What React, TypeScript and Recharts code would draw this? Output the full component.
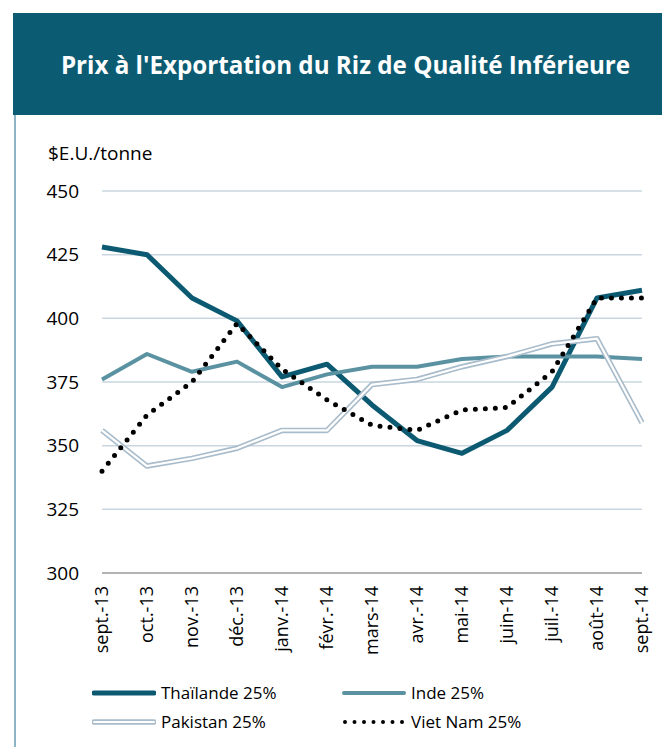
import React from "react";
import { LineChart, Line, XAxis, YAxis, CartesianGrid } from "recharts";

const months = ["sept.-13", "oct.-13", "nov.-13", "déc.-13", "janv.-14", "févr.-14", "mars-14", "avr.-14", "mai-14", "juin-14", "juil.-14", "août-14", "sept.-14"];
const thailande = [428, 425, 408, 399, 377, 382, 366, 352, 347, 356, 373, 408, 411];
const inde = [376, 386, 379, 383, 373, 378, 381, 381, 384, 385, 385, 385, 384];
const pakistan = [356, 342, 345, 349, 356, 356, 374, 376, 381, 385, 390, 392, 359];
const vietnam = [340, 362, 375, 398, 380, 368, 358, 356, 364, 365, 379, 408, 408];
const yTicks = [300, 325, 350, 375, 400, 425, 450];

const data = months.map((m, i) => ({
  month: m,
  thailande: thailande[i],
  inde: inde[i],
  pakistan: pakistan[i],
  vietnam: vietnam[i],
}));

const FONT = "'Open Sans', sans-serif";
const C_THAI = "#0b5a72";
const C_INDE = "#5a92a2";
const C_PAK = "#a9bccb";

const XTick = (props: any) => {
  const { x, y, payload } = props;
  const yy = y + 5;
  return (
    <text
      x={x}
      y={yy}
      transform={`rotate(-90 ${x} ${yy})`}
      textAnchor="end"
      dy="0.35em"
      fontSize={18}
      fontFamily={FONT}
      fill="#000"
    >
      {payload.value}
    </text>
  );
};

const Swatch = ({ kind }: { kind: string }) => (
  <svg width={64} height={10} style={{ display: "block" }}>
    {kind === "thai" && <line x1={2} y1={5} x2={62} y2={5} stroke={C_THAI} strokeWidth={5} strokeLinecap="round" />}
    {kind === "inde" && <line x1={2} y1={5} x2={62} y2={5} stroke={C_INDE} strokeWidth={4} strokeLinecap="round" />}
    {kind === "pak" && (
      <g>
        <line x1={2} y1={5} x2={62} y2={5} stroke={C_PAK} strokeWidth={5.5} strokeLinecap="round" />
        <line x1={2} y1={5} x2={62} y2={5} stroke="#fff" strokeWidth={2.2} strokeLinecap="round" />
      </g>
    )}
    {kind === "viet" && <line x1={3} y1={5} x2={62} y2={5} stroke="#000" strokeWidth={4} strokeDasharray="0 9.5" strokeLinecap="round" />}
  </svg>
);

const legendItems = [
  { kind: "thai", label: "Thaïlande 25%", left: 84, top: 674 },
  { kind: "inde", label: "Inde 25%", left: 334, top: 674 },
  { kind: "pak", label: "Pakistan 25%", left: 84, top: 703 },
  { kind: "viet", label: "Viet Nam 25%", left: 334, top: 703 },
];

export default function App() {
  return (
    <div style={{ position: "relative", width: 662, height: 739, fontFamily: FONT, background: "#fff" }}>
      <div
        style={{
          position: "absolute",
          left: 5,
          top: 5,
          width: 657,
          height: 102,
          background: "#0b5b73",
          color: "#fff",
          display: "flex",
          alignItems: "center",
          justifyContent: "center",
          fontWeight: 700,
          fontSize: 24.2,
          fontFamily: FONT,
          whiteSpace: "nowrap",
          paddingLeft: 8,
          boxSizing: "border-box",
        }}
      >
        Prix à l'Exportation du Riz de Qualité Inférieure
      </div>
      <div style={{ position: "absolute", left: 6, top: 107, width: 2, height: 632, background: "#8db4c4" }} />
      <div style={{ position: "absolute", left: 40, top: 133, fontSize: 19, lineHeight: "24px", color: "#000" }}>$E.U./tonne</div>
      <div style={{ position: "absolute", left: 0, top: 0 }}>
        <LineChart width={662} height={700} data={data} margin={{ top: 183, right: 28, bottom: 0, left: 0 }}>
          <CartesianGrid vertical={false} stroke="#c9d6df" strokeWidth={1.5} />
          <XAxis
            dataKey="month"
            interval={0}
            tickLine={false}
            axisLine={{ stroke: "#a6a6a6", strokeWidth: 1.5 }}
            height={135}
            tick={<XTick />}
          />
          <YAxis
            domain={[300, 450]}
            ticks={yTicks}
            axisLine={false}
            tickLine={false}
            tickMargin={17}
            width={94}
            tick={{ fontSize: 19, fontFamily: FONT, fill: "#000" }}
          />
          <Line dataKey="thailande" stroke={C_THAI} strokeWidth={5} dot={false} isAnimationActive={false} strokeLinejoin="round" />
          <Line dataKey="inde" stroke={C_INDE} strokeWidth={4} dot={false} isAnimationActive={false} strokeLinejoin="round" />
          <Line dataKey="pakistan" stroke={C_PAK} strokeWidth={5.5} dot={false} isAnimationActive={false} strokeLinejoin="round" />
          <Line dataKey="pakistan" stroke="#fff" strokeWidth={2.2} dot={false} isAnimationActive={false} strokeLinejoin="round" />
          <Line dataKey="vietnam" stroke="#000" strokeWidth={5} strokeDasharray="0 10" strokeLinecap="round" dot={false} isAnimationActive={false} />
        </LineChart>
      </div>
      {legendItems.map((it) => (
        <div key={it.label} style={{ position: "absolute", left: it.left, top: it.top, display: "flex", alignItems: "center", fontSize: 17, lineHeight: "22px", color: "#000" }}>
          <Swatch kind={it.kind} />
          <span style={{ marginLeft: 5 }}>{it.label}</span>
        </div>
      ))}
    </div>
  );
}
